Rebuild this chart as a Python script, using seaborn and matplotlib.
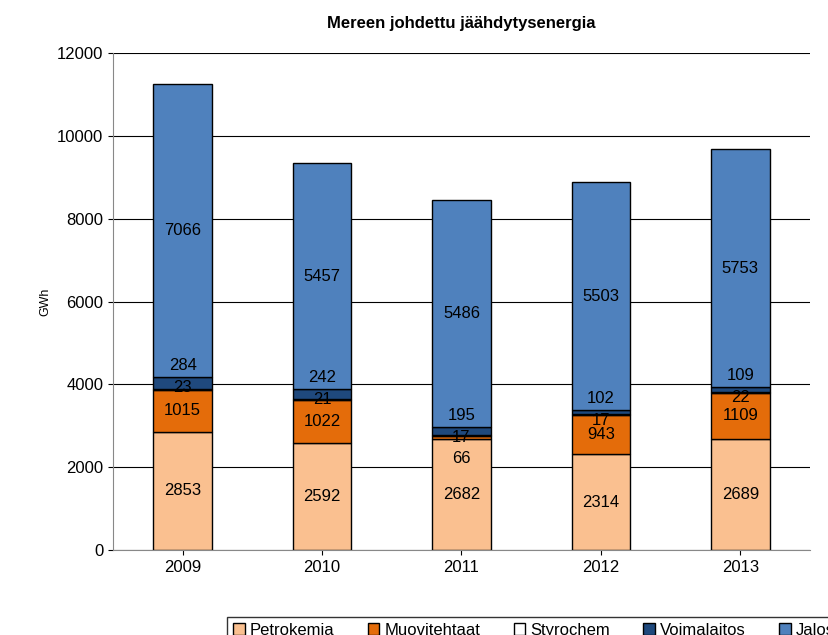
import matplotlib
matplotlib.use("Agg")
import matplotlib.pyplot as plt
import seaborn as sns
import pandas as pd
import numpy as np

plt.rcParams["font.family"] = "Liberation Sans"

years = ["2009", "2010", "2011", "2012", "2013"]
series_names = ["Petrokemia", "Muovitehtaat", "Styrochem", "Voimalaitos", "Jalostus"]
petrokemia = [2853, 2592, 2682, 2314, 2689]
muovitehtaat = [1015, 1022, 66, 943, 1109]
styrochem = [23, 21, 17, 17, 22]
voimalaitos = [284, 242, 195, 102, 109]
jalostus = [7066, 5457, 5486, 5503, 5753]
colors = ["#FAC090", "#E46C0A", "#FFFFFF", "#1F497D", "#4F81BD"]

data = [petrokemia, muovitehtaat, styrochem, voimalaitos, jalostus]
fig = plt.figure(figsize=(8.29, 6.35), dpi=100)
ax = fig.add_axes([113/829, 1-550/635, 697/829, 497/635])
bottom = np.zeros(len(years))
tops = []
for name, vals, c in zip(series_names, data, colors):
    df = pd.DataFrame({"year": years, "v": vals})
    sns.barplot(data=df, x="year", y="v", color=c, ax=ax, bottom=bottom.copy(),
                width=0.42, edgecolor="black", linewidth=1, label=name,
                saturation=1, errorbar=None)
    tops.append(bottom + np.array(vals))
    bottom = bottom + np.array(vals)

bottom = np.zeros(len(years))
for k, vals in enumerate(data):
    for i, v in enumerate(vals):
        if k in (0, 4) or v >= 300:
            y = bottom[i] + v / 2
        else:
            # small segments: stacked labels below top of Voimalaitos
            vt = tops[3][i] + 280
            step = 520
            y = vt - (3 - k) * step
        ax.text(i, y, str(v), ha="center", va="center", fontsize=12, color="black")
    bottom = bottom + np.array(vals)

ax.set_ylim(0, 12000)
ax.set_yticks(range(0, 12001, 2000))
ax.set_xlim(-0.5, 4.5)
ax.grid(axis="y", color="black", linewidth=0.8)
ax.set_axisbelow(True)
ax.set_xlabel("")
ax.set_ylabel("GWh", fontsize=9)
ax.tick_params(labelsize=12)
for s in ["top", "right"]:
    ax.spines[s].set_visible(False)
ax.spines["left"].set_color("#888888")
ax.spines["bottom"].set_color("#888888")
ax.set_title("Mereen johdettu jäähdytysenergia", fontsize=12, fontweight="bold", pad=18)
ax.legend(loc="lower center", bbox_to_anchor=(0.62, -0.205), ncol=5, fontsize=12,
          frameon=True, fancybox=False, edgecolor="black", handlelength=0.7,
          handletextpad=0.3, columnspacing=2.0, borderpad=0.35)
fig.savefig("out.png", dpi=100)
